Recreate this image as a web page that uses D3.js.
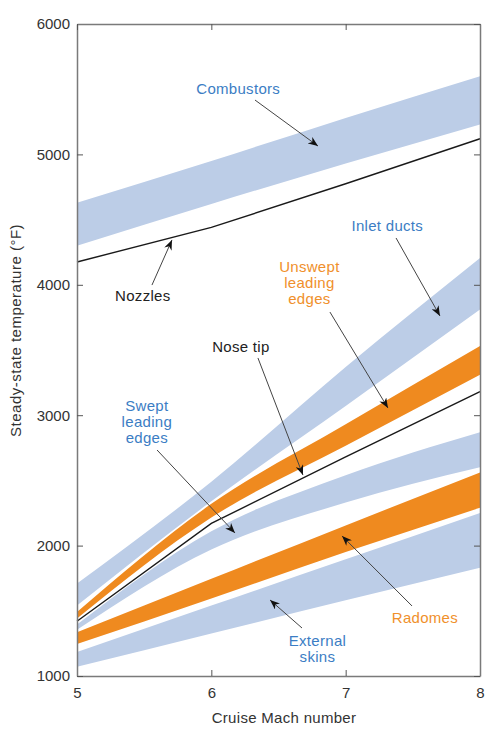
<!DOCTYPE html>
<html>
<head>
<meta charset="utf-8">
<script src="https://cdn.jsdelivr.net/npm/d3@7"></script>
<style>
  body { margin: 0; background: #fff; }
  text { font-family: "Liberation Sans", Arial, Helvetica, sans-serif; }
</style>
</head>
<body>
<div id="chart"></div>
<script>
const mach = [5, 6, 7, 8];

// band upper / lower edges (deg F)
const combustorsHi = [4630, 4950, 5280, 5600];
const combustorsLo = [4300, 4620, 4930, 5230];
const inletHi = [1710, 2490, 3370, 4205];
const inletLo = [1540, 2340, 3070, 3810];
const unsweptHi = [1490, 2320, 2930, 3530];
const unsweptLo = [1440, 2215, 2765, 3310];
const sweptHi = [1395, 2110, 2540, 2870];
const sweptLo = [1355, 1970, 2330, 2600];
const radomesHi = [1335, 1745, 2155, 2560];
const radomesLo = [1245, 1595, 1950, 2290];
const skinsHi = [1185, 1540, 1895, 2250];
const skinsLo = [1070, 1325, 1580, 1830];

// single lines
const nozzles = [4175, 4440, 4775, 5120];
const noseTip = [1420, 2170, 2680, 3180];

const xTicks = [5, 6, 7, 8];
const yTicks = [1000, 2000, 3000, 4000, 5000, 6000];

// annotation labels and arrows, in data units [mach, temp]
const labels = [
  { lines: ["Combustors"], at: [6.2, 5500], color: "#3b7dc4" },
  { lines: ["Nozzles"], at: [5.49, 3914], color: "#222" },
  { lines: ["Inlet ducts"], at: [7.31, 4451], color: "#3b7dc4" },
  { lines: ["Unswept", "leading", "edges"], at: [6.73, 4137], color: "#f0902c" },
  { lines: ["Nose tip"], at: [6.22, 3523], color: "#222" },
  { lines: ["Swept", "leading", "edges"], at: [5.52, 3071], color: "#3b7dc4" },
  { lines: ["Radomes"], at: [7.59, 1445], color: "#f0902c" },
  { lines: ["External", "skins"], at: [6.79, 1268], color: "#3b7dc4" }
];
const arrows = [
  [[6.325, 5417], [6.794, 5064]],
  [[5.558, 3998], [5.707, 4344]],
  [[7.375, 4359], [7.702, 3761]],
  [[6.883, 3791], [7.315, 3055]],
  [[6.347, 3439], [6.682, 2541]],
  [[5.596, 2733], [6.176, 2097]],
  [[7.494, 1537], [6.973, 2074]],
  [[6.675, 1368], [6.437, 1583]]
];

const width = 490, height = 741;
const margin = { top: 24, right: 10, bottom: 65, left: 77 };
const fontSize = "15px", spacing = "0.3px";

const svg = d3.select("#chart").append("svg")
  .attr("width", width)
  .attr("height", height);

const x = d3.scaleLinear().domain([5, 8]).range([margin.left, width - margin.right]);
const y = d3.scaleLinear().domain([1000, 6000]).range([height - margin.bottom, margin.top]);

const blue = "#bccde7", orange = "#ef8a1f";

const area = d3.area()
  .curve(d3.curveMonotoneX)
  .x((d, i) => x(mach[i]))
  .y0(d => y(d[1]))
  .y1(d => y(d[0]));

const line = d3.line()
  .x((d, i) => x(mach[i]))
  .y(d => y(d));

const bands = [
  [combustorsHi, combustorsLo, blue],
  [inletHi, inletLo, blue],
  [unsweptHi, unsweptLo, orange],
  [sweptHi, sweptLo, blue],
  [radomesHi, radomesLo, orange],
  [skinsHi, skinsLo, blue]
];

bands.forEach(b => {
  svg.append("path")
    .datum(b[0].map((v, i) => [v, b[1][i]]))
    .attr("d", area)
    .attr("fill", b[2]);
});

[nozzles, noseTip].forEach(s => {
  svg.append("path")
    .datum(s)
    .attr("d", line)
    .attr("fill", "none")
    .attr("stroke", "#1a1a1a")
    .attr("stroke-width", 1.4);
});

// axes, ticks pointing inward on all four sides
const axisColor = "#7a7a7a";
const tickLen = 6;

const bottomAxis = svg.append("g")
  .attr("transform", `translate(0,${y(1000)})`)
  .call(d3.axisBottom(x).tickValues(xTicks).tickFormat(d3.format("d")).tickSizeInner(-tickLen).tickSizeOuter(0).tickPadding(11));
const leftAxis = svg.append("g")
  .attr("transform", `translate(${x(5)},0)`)
  .call(d3.axisLeft(y).tickValues(yTicks).tickFormat(d3.format("d")).tickSizeInner(-tickLen).tickSizeOuter(0).tickPadding(7));
const topAxis = svg.append("g")
  .attr("transform", `translate(0,${y(6000)})`)
  .call(d3.axisTop(x).tickValues(xTicks).tickSizeInner(-tickLen).tickSizeOuter(0).tickFormat(""));
const rightAxis = svg.append("g")
  .attr("transform", `translate(${x(8)},0)`)
  .call(d3.axisRight(y).tickValues(yTicks).tickSizeInner(-tickLen).tickSizeOuter(0).tickFormat(""));

[bottomAxis, leftAxis, topAxis, rightAxis].forEach(g => {
  g.select(".domain").attr("stroke", axisColor).attr("stroke-width", 1.5);
  g.selectAll(".tick line").attr("stroke", "#555").attr("stroke-width", 1);
  g.selectAll(".tick text")
    .attr("fill", "#333")
    .style("font-size", fontSize)
    .style("font-family", "'Liberation Sans', Arial, sans-serif");
});

// axis titles
svg.append("text")
  .attr("x", 284)
  .attr("y", 723)
  .attr("text-anchor", "middle")
  .attr("fill", "#333")
  .style("font-size", fontSize)
  .style("letter-spacing", spacing)
  .text("Cruise Mach number");

svg.append("text")
  .attr("transform", `translate(21,${y(3650)}) rotate(-90)`)
  .attr("text-anchor", "middle")
  .attr("fill", "#333")
  .style("font-size", fontSize)
  .style("letter-spacing", "0.5px")
  .text("Steady-state temperature (\u00B0F)");

// arrowhead marker
svg.append("defs").append("marker")
  .attr("id", "head")
  .attr("viewBox", "0 0 10 8")
  .attr("refX", 10)
  .attr("refY", 4)
  .attr("markerWidth", 11)
  .attr("markerHeight", 8)
  .attr("markerUnits", "userSpaceOnUse")
  .attr("orient", "auto")
  .append("path")
  .attr("d", "M0,0 L10,4 L0,8 L3,4 Z")
  .attr("fill", "#111");

arrows.forEach(a => {
  svg.append("line")
    .attr("x1", x(a[0][0])).attr("y1", y(a[0][1]))
    .attr("x2", x(a[1][0])).attr("y2", y(a[1][1]))
    .attr("stroke", "#444")
    .attr("stroke-width", 1)
    .attr("marker-end", "url(#head)");
});

labels.forEach(l => {
  const t = svg.append("text")
    .attr("x", x(l.at[0]))
    .attr("y", y(l.at[1]))
    .attr("text-anchor", "middle")
    .attr("fill", l.color)
    .style("font-size", fontSize)
    .style("letter-spacing", spacing);
  l.lines.forEach((s, i) => {
    t.append("tspan")
      .attr("x", x(l.at[0]))
      .attr("dy", i === 0 ? "0.35em" : "16px")
      .text(s);
  });
});
</script>
</body>
</html>
